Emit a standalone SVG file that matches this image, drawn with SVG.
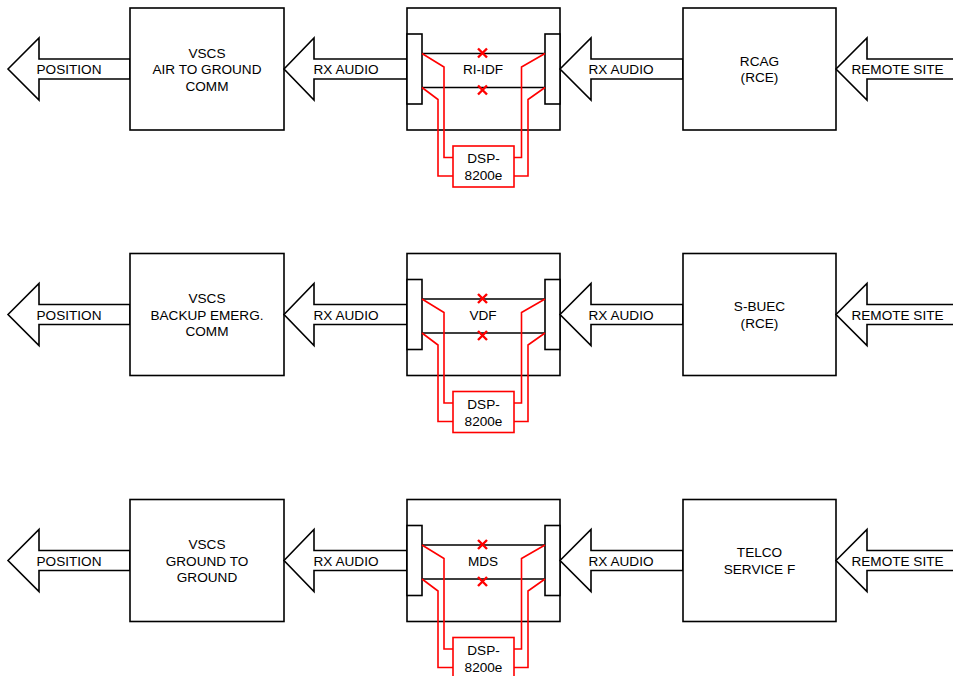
<svg xmlns="http://www.w3.org/2000/svg" width="953" height="676" viewBox="0 0 953 676">
<style>
.b{fill:#fff;stroke:#000;stroke-width:1.6}
.ln{fill:none;stroke:#000;stroke-width:1.6}
.r{fill:none;stroke:#f00;stroke-width:1.6}
.rb{fill:#fff;stroke:#f00;stroke-width:1.6}
.x{fill:none;stroke:#f00;stroke-width:2.4}
text{font-family:"Liberation Sans",Arial,sans-serif;font-size:13.6px;fill:#000;text-anchor:middle}
</style>
<defs>
<path id="conn" d="M422,53.5 L444,67 L444,157.5 L453,157.5 M422,87.5 L438,99.5 L438,176 L453,176 M545,53.5 L521.5,67 L521.5,157.5 L514,157.5 M545,87.5 L528,99.5 L528,176 L514,176"/>
<path id="xs" d="M478,48.5 L487,57.5 M487,48.5 L478,57.5 M478,85.5 L487,94.5 M487,85.5 L478,94.5"/>
</defs>
<rect width="953" height="676" fill="#fff"/>

<!-- ROW 1 -->
<g id="row1">
<g id="pos1"><path class="b" d="M8,69 L39,38 L39,59 L130,59 L130,79 L39,79 L39,100 Z"/><text x="69" y="74">POSITION</text></g>
<g id="vscs1"><rect class="b" x="130" y="8" width="154" height="122"/><text x="207" y="57.5">VSCS</text><text x="207" y="74.2">AIR TO GROUND</text><text x="207" y="90.9">COMM</text></g>
<g id="rxl1"><path class="b" d="M284,69 L314,38 L314,59 L407,59 L407,79 L314,79 L314,100 Z"/><text x="346" y="74">RX AUDIO</text></g>
<g id="idf1"><rect class="b" x="407" y="8" width="153" height="122"/><rect class="b" x="407" y="34" width="15" height="70"/><rect class="b" x="545" y="34" width="15" height="70"/><text x="483" y="74">RI-IDF</text></g>
<g id="dsp1"><rect class="rb" x="453" y="146" width="61" height="41"/><text x="483.5" y="163">DSP-</text><text x="483.5" y="180">8200e</text></g>
<g id="rxr1"><path class="b" d="M560,69 L591,38 L591,59 L683,59 L683,79 L591,79 L591,100 Z"/><text x="621" y="74">RX AUDIO</text></g>
<g id="rcag1"><rect class="b" x="683" y="8" width="153" height="122"/><text x="759.5" y="65.5">RCAG</text><text x="759.5" y="82.2">(RCE)</text></g>
<g id="rem1"><path class="b" d="M836,69 L867,38 L867,59 L960,59 L960,79 L867,79 L867,100 Z"/><text x="897.5" y="74">REMOTE SITE</text></g>
<g id="conn1">
<path class="ln" d="M422,53.5 H545 M422,87.5 H545"/>
<use href="#conn" class="r"/>
<use href="#xs" class="x"/>
</g>
</g>

<!-- ROW 2 -->
<g id="row2" transform="translate(0,245.5)">
<g id="pos2"><path class="b" d="M8,69 L39,38 L39,59 L130,59 L130,79 L39,79 L39,100 Z"/><text x="69" y="74">POSITION</text></g>
<g id="vscs2"><rect class="b" x="130" y="8" width="154" height="122"/><text x="207" y="57.5">VSCS</text><text x="207" y="74.2">BACKUP EMERG.</text><text x="207" y="90.9">COMM</text></g>
<g id="rxl2"><path class="b" d="M284,69 L314,38 L314,59 L407,59 L407,79 L314,79 L314,100 Z"/><text x="346" y="74">RX AUDIO</text></g>
<g id="idf2"><rect class="b" x="407" y="8" width="153" height="122"/><rect class="b" x="407" y="34" width="15" height="70"/><rect class="b" x="545" y="34" width="15" height="70"/><text x="483" y="74">VDF</text></g>
<g id="dsp2"><rect class="rb" x="453" y="146" width="61" height="41"/><text x="483.5" y="163">DSP-</text><text x="483.5" y="180">8200e</text></g>
<g id="rxr2"><path class="b" d="M560,69 L591,38 L591,59 L683,59 L683,79 L591,79 L591,100 Z"/><text x="621" y="74">RX AUDIO</text></g>
<g id="sbuec2"><rect class="b" x="683" y="8" width="153" height="122"/><text x="759.5" y="65.5">S-BUEC</text><text x="759.5" y="82.2">(RCE)</text></g>
<g id="rem2"><path class="b" d="M836,69 L867,38 L867,59 L960,59 L960,79 L867,79 L867,100 Z"/><text x="897.5" y="74">REMOTE SITE</text></g>
<g id="conn2">
<path class="ln" d="M422,53.5 H545 M422,87.5 H545"/>
<use href="#conn" class="r"/>
<use href="#xs" class="x"/>
</g>
</g>

<!-- ROW 3 -->
<g id="row3" transform="translate(0,491.5)">
<g id="pos3"><path class="b" d="M8,69 L39,38 L39,59 L130,59 L130,79 L39,79 L39,100 Z"/><text x="69" y="74">POSITION</text></g>
<g id="vscs3"><rect class="b" x="130" y="8" width="154" height="122"/><text x="207" y="57.5">VSCS</text><text x="207" y="74.2">GROUND TO</text><text x="207" y="90.9">GROUND</text></g>
<g id="rxl3"><path class="b" d="M284,69 L314,38 L314,59 L407,59 L407,79 L314,79 L314,100 Z"/><text x="346" y="74">RX AUDIO</text></g>
<g id="idf3"><rect class="b" x="407" y="8" width="153" height="122"/><rect class="b" x="407" y="34" width="15" height="70"/><rect class="b" x="545" y="34" width="15" height="70"/><text x="483" y="74">MDS</text></g>
<g id="dsp3"><rect class="rb" x="453" y="146" width="61" height="41"/><text x="483.5" y="163">DSP-</text><text x="483.5" y="180">8200e</text></g>
<g id="rxr3"><path class="b" d="M560,69 L591,38 L591,59 L683,59 L683,79 L591,79 L591,100 Z"/><text x="621" y="74">RX AUDIO</text></g>
<g id="telco3"><rect class="b" x="683" y="8" width="153" height="122"/><text x="759.5" y="65.5">TELCO</text><text x="759.5" y="82.2">SERVICE F</text></g>
<g id="rem3"><path class="b" d="M836,69 L867,38 L867,59 L960,59 L960,79 L867,79 L867,100 Z"/><text x="897.5" y="74">REMOTE SITE</text></g>
<g id="conn3">
<path class="ln" d="M422,53.5 H545 M422,87.5 H545"/>
<use href="#conn" class="r"/>
<use href="#xs" class="x"/>
</g>
</g>
</svg>
